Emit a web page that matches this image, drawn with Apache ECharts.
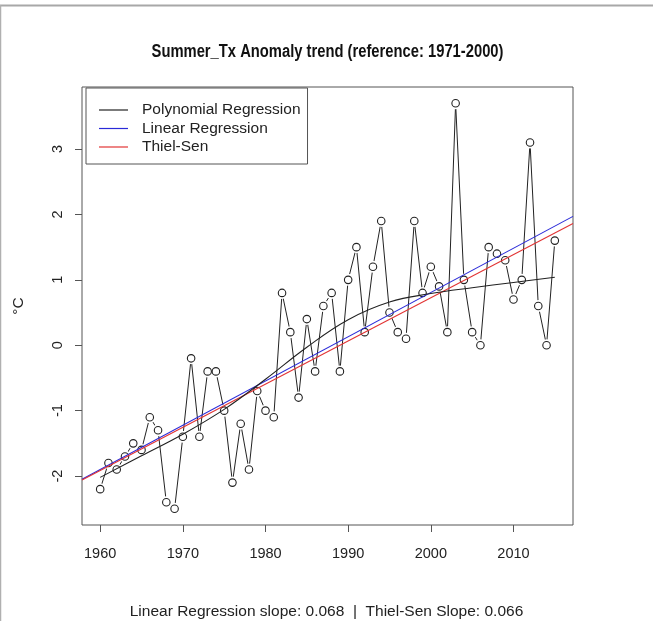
<!DOCTYPE html>
<html><head><meta charset="utf-8">
<script src="https://cdn.jsdelivr.net/npm/echarts@6/dist/echarts.min.js"></script>
<style>html,body{margin:0;padding:0;background:#fff}#c{width:653px;height:621px}</style>
</head><body><div id="c"></div>
<script>
const years = [1960,1961,1962,1963,1964,1965,1966,1967,1968,1969,
  1970,1971,1972,1973,1974,1975,1976,1977,1978,1979,
  1980,1981,1982,1983,1984,1985,1986,1987,1988,1989,
  1990,1991,1992,1993,1994,1995,1996,1997,1998,1999,
  2000,2001,2002,2003,2004,2005,2006,2007,2008,2009,
  2010,2011,2012,2013,2014,2015];
const anomaly = [-2.2,-1.8,-1.9,-1.7,-1.5,-1.6,-1.1,-1.3,-2.4,-2.5,
  -1.4,-0.2,-1.4,-0.4,-0.4,-1.0,-2.1,-1.2,-1.9,-0.7,
  -1.0,-1.1,0.8,0.2,-0.8,0.4,-0.4,0.6,0.8,-0.4,
  1.0,1.5,0.2,1.2,1.9,0.5,0.2,0.1,1.9,0.8,
  1.2,0.9,0.2,3.7,1.0,0.2,0.0,1.5,1.4,1.3,
  0.7,1.0,3.1,0.6,0.0,1.6];
const polyYears = [1960,1965,1970,1975,1980,1985,1990,1995,2000,2005,2010,2015];
const polyValues = [-2.02,-1.69,-1.36,-0.98,-0.52,-0.03,0.39,0.66,0.79,0.88,0.96,1.04];
const trendX = [1957.8, 2017.2];
const linearY = [-2.05, 1.97];
const thielSenY = [-2.06, 1.86];
const xTicks = [1960,1970,1980,1990,2000,2010];
const yTicks = [-2,-1,0,1,2,3];
const titleText = 'Summer_Tx Anomaly trend (reference: 1971-2000)';
const footText = 'Linear Regression slope: 0.068  |  Thiel-Sen Slope: 0.066';

const pts = years.map((y,i)=>[y, anomaly[i]]);
const poly = polyYears.map((y,i)=>[y, polyValues[i]]);
const lin = trendX.map((x,i)=>[x, linearY[i]]);
const ts = trendX.map((x,i)=>[x, thielSenY[i]]);

const FONT = "'Liberation Sans', Arial, sans-serif";
const chart = echarts.init(document.getElementById('c'), null, {renderer:'canvas'});
chart.setOption({
  animation:false,
  backgroundColor:'#fff',
  title:[
    {text:footText, left:'center', top:599,
     textStyle:{fontFamily:FONT, fontWeight:'normal', fontSize:15.5, color:'#222'}}
  ],
  graphic:[
    {type:'line', shape:{x1:0,y1:5.5,x2:653,y2:5.5}, style:{stroke:'#a8a8a8', lineWidth:2}},
    {type:'line', shape:{x1:0.5,y1:5,x2:0.5,y2:621}, style:{stroke:'#b0b0b0', lineWidth:1.5}},
    {type:'text', x:327.5, y:52, scaleX:0.82, scaleY:1,
     style:{text:titleText, font:"bold 18px 'Liberation Sans', Arial, sans-serif",
            fill:'#111', align:'center', verticalAlign:'middle', textAlign:'center', textVerticalAlign:'middle'}}
  ],
  grid:{left:82, right:80, top:87, bottom:96, show:true, borderColor:'#555', borderWidth:1, backgroundColor:'transparent'},
  legend:{
    left:86, top:88, orient:'vertical',
    data:['Polynomial Regression','Linear Regression','Thiel-Sen'],
    icon:'rect', itemWidth:29, itemHeight:1.2, itemGap:0.5,
    padding:[13,7,8,13],
    borderColor:'#555', borderWidth:1, backgroundColor:'#fff',
    textStyle:{fontFamily:FONT, fontSize:15.5, color:'#222', lineHeight:18, padding:[0,0,0,9]},
    selectedMode:false
  },
  xAxis:{type:'value', min:1957.8, max:2017.2, splitLine:{show:false},
    axisLine:{show:false, onZero:false},
    axisTick:{show:true, length:7, inside:false, customValues:xTicks, lineStyle:{color:'#555'}},
    axisLabel:{customValues:xTicks, formatter:(v)=>String(v), fontFamily:FONT, fontSize:14.5, color:'#222', margin:21}
  },
  yAxis:{type:'value', min:-2.748, max:3.948, splitLine:{show:false},
    name:'°C', nameLocation:'middle', nameRotate:90, nameGap:55,
    nameTextStyle:{fontFamily:FONT, fontSize:15.5, color:'#222'},
    axisLine:{show:false, onZero:false},
    axisTick:{show:true, length:7, inside:false, customValues:yTicks, lineStyle:{color:'#555'}},
    axisLabel:{customValues:yTicks, formatter:(v)=>String(v), rotate:90, fontFamily:FONT, fontSize:14.5, color:'#222', margin:17}
  },
  series:[
    {name:'Anomaly', type:'line', data:pts, symbol:'none', z:2, silent:true,
     lineStyle:{color:'#222', width:1}},
    {name:'gap', type:'scatter', data:pts, symbol:'circle', symbolSize:12, z:3, silent:true,
     itemStyle:{color:'#fff', opacity:1}},
    {name:'points', type:'scatter', data:pts, symbol:'circle', symbolSize:7.5, z:4, silent:true,
     itemStyle:{color:'#fff', borderColor:'#222', borderWidth:1.1, opacity:1}},
    {name:'Polynomial Regression', type:'line', data:poly, symbol:'none', smooth:0.4, z:6, silent:true,
     itemStyle:{color:'#222'}, lineStyle:{color:'#222', width:1.1}},
    {name:'Linear Regression', type:'line', data:lin, symbol:'none', z:5, silent:true,
     itemStyle:{color:'#2a2ad8'}, lineStyle:{color:'#2a2ad8', width:1.1}},
    {name:'Thiel-Sen', type:'line', data:ts, symbol:'none', z:5, silent:true,
     itemStyle:{color:'#e23434'}, lineStyle:{color:'#e23434', width:1.1}}
  ]
});
</script>
</body></html>
